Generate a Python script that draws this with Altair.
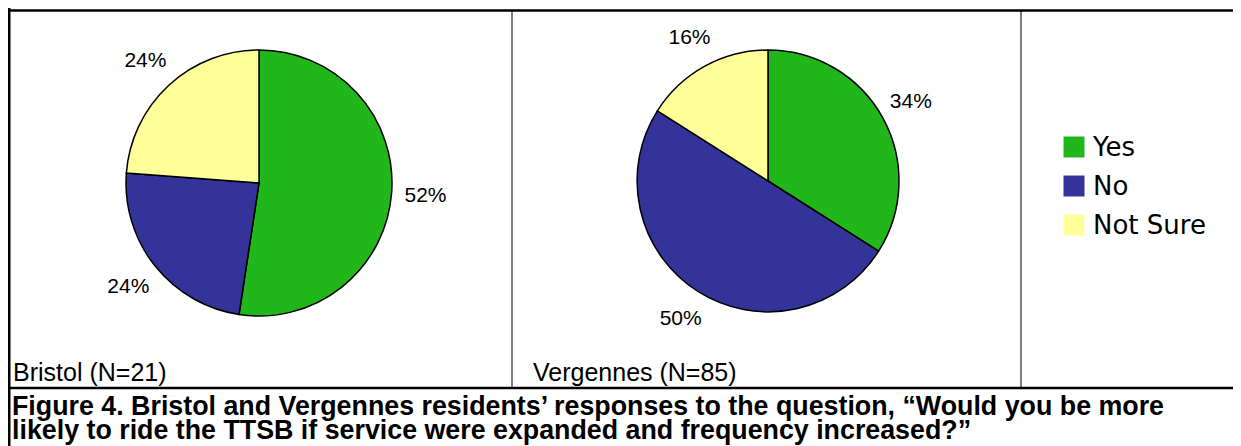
import altair as alt
import pandas as pd

responses = ["Yes", "No", "Not Sure"]
colors = ["#21B61A", "#333399", "#FFFF99"]
bristol_pct = [52.4, 23.8, 23.8]
bristol_labels = ["52%", "24%", "24%"]
vergennes_pct = [34, 50, 16]
vergennes_labels = ["34%", "50%", "16%"]
panel_titles = ["Bristol (N=21)", "Vergennes (N=85)"]
caption_lines = [
    "Figure 4. Bristol and Vergennes residents\u2019 responses to the question, \u201cWould you be more",
    "likely to ride the TTSB if service were expanded and frequency increased?\u201d",
]

W, H = 1225, 438
ARIAL = "Liberation Sans"
color_scale = alt.Scale(domain=responses, range=colors)
one = pd.DataFrame({"a": [0]})


def pie(vals, labels, cx, cy, r, lr):
    df = pd.DataFrame({"response": responses, "value": vals, "label": labels,
                       "order": list(range(len(responses)))})
    base = alt.Chart(df).encode(
        theta=alt.Theta("value:Q", stack=True),
        order=alt.Order("order:Q"),
        x=alt.value(cx), y=alt.value(cy),
    )
    arcs = base.mark_arc(radius=r, stroke="black", strokeWidth=1.5).encode(
        color=alt.Color("response:N", scale=color_scale, legend=None))
    text = base.mark_text(radius=lr, font=ARIAL, fontSize=21, color="black").encode(
        text="label:N")
    return [arcs, text]


def hline(x1, x2, y, w):
    return alt.Chart(one).mark_rule(color="black", strokeWidth=w).encode(
        x=alt.value(x1), x2=alt.value(x2), y=alt.value(y))


def vline(x, y1, y2, w):
    return alt.Chart(one).mark_rule(color="black", strokeWidth=w).encode(
        x=alt.value(x), y=alt.value(y1), y2=alt.value(y2))


def label(text, x, y, size, bold=False, font=ARIAL):
    return alt.Chart(pd.DataFrame({"t": [text]})).mark_text(
        align="left", baseline="alphabetic", font=font, fontSize=size,
        fontWeight="bold" if bold else "normal", color="black").encode(
        text="t:N", x=alt.value(x), y=alt.value(y))


legend_df = pd.DataFrame({"response": responses, "order": list(range(len(responses)))})
leg_y = alt.Y("order:Q", scale=alt.Scale(domain=[0, 2], range=[139, 217]), axis=None)
legend_sq = alt.Chart(legend_df).mark_square(size=441, opacity=1).encode(
    x=alt.value(1066), y=leg_y,
    color=alt.Color("response:N", scale=color_scale, legend=None))
legend_txt = alt.Chart(legend_df).mark_text(
    align="left", baseline="middle", font="DejaVu Sans", fontSize=26, color="black", dy=1).encode(
    x=alt.value(1085), y=leg_y, text="response:N")

layers = []
layers += pie(bristol_pct, bristol_labels, 251, 175, 133, 167)
layers += pie(vergennes_pct, vergennes_labels, 760, 173, 131, 163)
layers += [legend_sq, legend_txt]
layers += [
    hline(0, W, 2.5, 2.5),
    hline(0, W, 380, 2.5),
    vline(1.25, 0, H, 2.5),
    vline(504, 2, 380, 1),
    vline(1013, 2, 380, 1),
    label(panel_titles[0], 5, 373, 25),
    label(panel_titles[1], 525, 373, 25),
    label(caption_lines[0], 4, 407, 26.8, bold=True),
    label(caption_lines[1], 4, 431, 26.8, bold=True),
]

chart = alt.layer(*layers).properties(
    width=W, height=H, padding=0,
    autosize=alt.AutoSizeParams(type="none"),
).configure_view(stroke=None)

chart.save("out.html", embed_options={"renderer": "svg", "actions": False})
